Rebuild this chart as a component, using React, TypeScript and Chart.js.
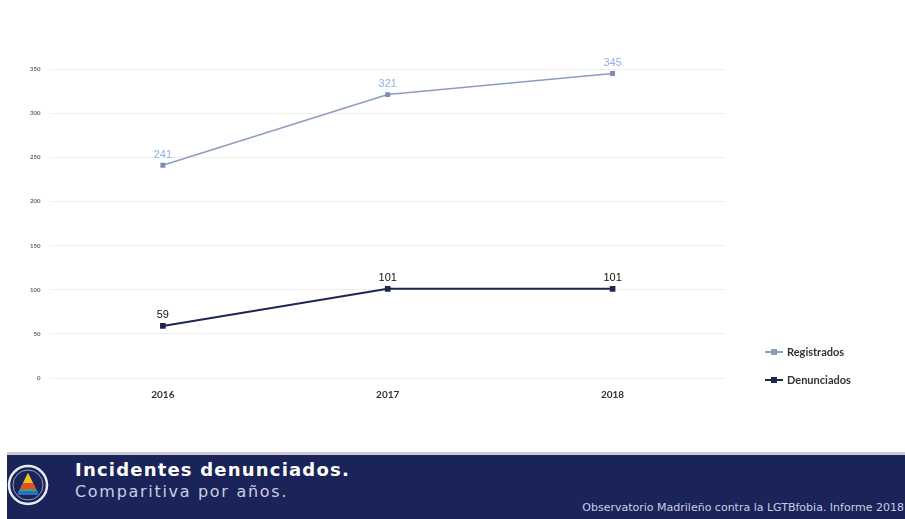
import React, { useEffect, useRef } from "react";
import { Chart, registerables } from "chart.js";

Chart.register(...registerables);

const years = ["2016", "2017", "2018"];
const registrados = [241, 321, 345];
const denunciados = [59, 101, 101];
const yTicks = [0, 50, 100, 150, 200, 250, 300, 350];

const regColor = "#8d9cc4";
const regLabel = "#8fb0de";
const denColor = "#1d2650";

const labelsPlugin = {
  id: "pointLabels",
  afterDatasetsDraw(chart: any) {
    const ctx = chart.ctx;
    chart.data.datasets.forEach((ds: any, i: number) => {
      const meta = chart.getDatasetMeta(i);
      ctx.save();
      ctx.font = "11px 'Liberation Sans', Arial, sans-serif";
      ctx.fillStyle = i === 0 ? regLabel : "#111";
      ctx.textAlign = "center";
      ctx.textBaseline = "bottom";
      meta.data.forEach((pt: any, j: number) => {
        ctx.fillText(String(ds.data[j]), pt.x, pt.y - 5);
      });
      ctx.restore();
    });
  },
};

const legendPlugin = {
  id: "sideLegend",
  afterDraw(chart: any) {
    const ctx = chart.ctx;
    const x0 = chart.chartArea.right + 40;
    const items = [
      { text: "Registrados", color: regColor, y: 352 },
      { text: "Denunciados", color: denColor, y: 380 },
    ];
    ctx.save();
    items.forEach((it) => {
      ctx.strokeStyle = it.color;
      ctx.lineWidth = 2;
      ctx.beginPath();
      ctx.moveTo(x0, it.y);
      ctx.lineTo(x0 + 18, it.y);
      ctx.stroke();
      ctx.fillStyle = it.color;
      ctx.fillRect(x0 + 6, it.y - 3, 6, 6);
      ctx.fillStyle = "#333";
      ctx.font = "bold 11px Lato, 'Noto Sans', sans-serif";
      ctx.textAlign = "left";
      ctx.textBaseline = "middle";
      ctx.fillText(it.text, x0 + 22, it.y);
    });
    ctx.restore();
  },
};

function LineChart() {
  const ref = useRef<HTMLCanvasElement | null>(null);
  useEffect(() => {
    if (!ref.current) return;
    const chart = new Chart(ref.current, {
      type: "line",
      data: {
        labels: years,
        datasets: [
          {
            label: "Registrados",
            data: registrados,
            borderColor: regColor,
            backgroundColor: "#7f8cb3",
            borderWidth: 1.5,
            pointStyle: "rect",
            pointRadius: 3.5,
            pointBorderWidth: 0,
            tension: 0,
          },
          {
            label: "Denunciados",
            data: denunciados,
            borderColor: denColor,
            backgroundColor: denColor,
            borderWidth: 2,
            pointStyle: "rect",
            pointRadius: 4,
            pointBorderWidth: 0,
            tension: 0,
          },
        ],
      },
      options: {
        responsive: false,
        animation: false,
        layout: { padding: { left: 20, right: 180, top: 69, bottom: 9 } },
        plugins: {
          legend: { display: false },
          tooltip: { enabled: false },
        },
        scales: {
          x: {
            offset: true,
            grid: { display: false, drawTicks: false },
            border: { display: false },
            ticks: {
              padding: 11,
              color: "#333",
              font: { family: "Lato, 'Noto Sans', sans-serif", size: 10, weight: "bold" },
            },
          },
          y: {
            min: 0,
            max: 350,
            afterBuildTicks(axis: any) {
              axis.ticks = yTicks.map((v) => ({ value: v }));
            },
            grid: { color: "#efefef", drawTicks: false },
            border: { display: false },
            ticks: {
              padding: 10,
              color: "#666",
              font: { family: "Lato, 'Noto Sans', sans-serif", size: 6, weight: "bold" },
            },
          },
        },
      },
      plugins: [labelsPlugin, legendPlugin],
    });
    return () => chart.destroy();
  }, []);
  return (
    <canvas
      ref={ref}
      width={905}
      height={421}
      style={{ position: "absolute", left: 0, top: 0, width: 905, height: 421 }}
    />
  );
}

export default function App() {
  return (
    <div
      style={{
        position: "fixed",
        left: 0,
        top: 0,
        width: 905,
        height: 519,
        background: "#fff",
        overflow: "hidden",
      }}
    >
      <LineChart />
      <div
        style={{
          position: "absolute",
          left: 7,
          top: 452,
          width: 898,
          height: 3,
          background: "#c9ccd6",
        }}
      />
      <div
        style={{
          position: "absolute",
          left: 7,
          top: 455,
          width: 898,
          height: 64,
          background: "#1a2459",
        }}
      />
      <svg
        style={{ position: "absolute", left: 6, top: 463 }}
        width={44}
        height={44}
        viewBox="0 0 44 44"
      >
        <circle cx={22} cy={22} r={19} fill="none" stroke="#e8eaf2" strokeWidth={2.5} />
        <circle cx={22} cy={22} r={15} fill="none" stroke="#9aa2c2" strokeWidth={1} />
        <polygon points="22,10 12,30 32,30" fill="#3fae4a" />
        <polygon points="22,10 17,20 27,20" fill="#f2c21b" />
        <polygon points="17,20 27,20 30,26 14,26" fill="#e94a2f" />
        <rect x={12} y={28} width={20} height={4} fill="#2d6fc4" />
      </svg>
      <div
        style={{
          position: "absolute",
          left: 75,
          top: 459,
          color: "#ffffff",
          fontFamily: "'DejaVu Sans', sans-serif",
          fontWeight: 700,
          fontSize: 18,
          letterSpacing: 1.2,
          whiteSpace: "nowrap",
        }}
      >
        Incidentes denunciados.
      </div>
      <div
        style={{
          position: "absolute",
          left: 75,
          top: 482,
          color: "#c9cee3",
          fontFamily: "'DejaVu Sans', sans-serif",
          fontSize: 16,
          letterSpacing: 1.7,
          whiteSpace: "nowrap",
        }}
      >
        Comparitiva por años.
      </div>
      <div
        style={{
          position: "absolute",
          right: 1,
          top: 501,
          color: "#c9cee3",
          fontFamily: "'DejaVu Sans', sans-serif",
          fontSize: 11,
          whiteSpace: "nowrap",
        }}
      >
        Observatorio Madrileño contra la LGTBfobia. Informe 2018
      </div>
    </div>
  );
}
